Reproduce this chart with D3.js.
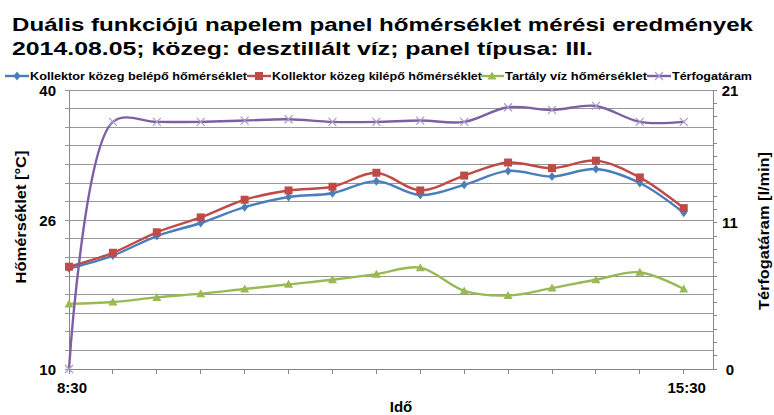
<!DOCTYPE html>
<html>
<head>
<meta charset="utf-8">
<script src="https://cdn.jsdelivr.net/npm/d3@7"></script>
<style>
  html, body { margin: 0; padding: 0; background: #fff; }
  svg { display: block; font-family: "Liberation Sans", Arial, sans-serif; }
</style>
</head>
<body>
<svg id="chart" width="774" height="415"></svg>
<script>
// Measurement times (30-minute steps)
const categories = ["8:30","9:00","9:30","10:00","10:30","11:00","11:30","12:00",
                    "12:30","13:00","13:30","14:00","14:30","15:00","15:30"];
// Collector medium inlet temperature [°C]
const inletTemp  = [20.8, 22.2, 24.3, 25.7, 27.4, 28.5, 28.9, 30.2, 28.7, 29.8, 31.3, 30.7, 31.5, 30.0, 26.8];
// Collector medium outlet temperature [°C]
const outletTemp = [21.0, 22.5, 24.7, 26.3, 28.2, 29.2, 29.6, 31.1, 29.2, 30.8, 32.2, 31.6, 32.4, 30.6, 27.3];
// Tank water temperature [°C]
const tankTemp   = [17.0, 17.2, 17.7, 18.1, 18.6, 19.1, 19.6, 20.2, 20.9, 18.4, 17.9, 18.7, 19.6, 20.4, 18.6];
// Volume flow [l/min]
const flowRate   = [0.0, 18.6, 18.6, 18.6, 18.7, 18.8, 18.6, 18.6, 18.7, 18.6, 19.7, 19.5, 19.8, 18.6, 18.6];

const seriesNames = ["Kollektor közeg belépő hőmérséklet", "Kollektor közeg kilépő hőmérséklet",
                     "Tartály víz hőmérséklet", "Térfogatáram"];
const leftTickLabels  = [10, 26, 40];
const rightTickLabels = [0, 11, 21];
const xTickLabels     = ["8:30", "15:30"];
const titleLines = ["Duális funkciójú napelem panel hőmérséklet mérési eredmények",
                    "2014.08.05; közeg: desztillált víz; panel típusa: III."];

// Layout: widths of the wide title/legend lettering
const titleWidths  = [741, 581];
const legendLayout = [{ x: 5, w: 217 }, { x: 247, w: 210 }, { x: 480, w: 142 }, { x: 647, w: 80 }];

const toMin = s => { const [h, m] = s.split(":").map(Number); return h * 60 + m; };

const svg = d3.select("#chart");
const plotL = 69, plotR = 713, plotT = 90, plotB = 369;

const x  = d3.scaleLinear().domain([toMin("8:30"), toMin("15:50")]).range([plotL, plotR]);
const yL = d3.scaleLinear().domain([10, 40]).range([plotB, plotT]);
const yR = d3.scaleLinear().domain([0, 21]).range([plotB, plotT]);

const gridColor = "#989898", axisColor = "#868686";

// Title
svg.append("g").selectAll("text").data(titleLines).join("text")
  .attr("x", 12).attr("y", (d, i) => 30.5 + i * 24)
  .attr("font-size", 18.5).attr("font-weight", "bold").attr("fill", "#000")
  .attr("textLength", (d, i) => titleWidths[i]).attr("lengthAdjust", "spacingAndGlyphs")
  .text(d => d);

// Horizontal gridlines every 2 °C, with outward ticks on the left
svg.append("g").selectAll("line").data(d3.range(10, 41, 2)).join("line")
  .attr("x1", plotL - 4).attr("x2", plotR)
  .attr("y1", d => yL(d)).attr("y2", d => yL(d))
  .attr("stroke", gridColor).attr("stroke-width", 1).attr("shape-rendering", "crispEdges");

// Left axis line
svg.append("line").attr("x1", plotL).attr("x2", plotL).attr("y1", plotT).attr("y2", plotB)
  .attr("stroke", axisColor).attr("shape-rendering", "crispEdges");

// Right axis with a tick per l/min
svg.append("line").attr("x1", plotR).attr("x2", plotR).attr("y1", plotT).attr("y2", plotB)
  .attr("stroke", axisColor).attr("shape-rendering", "crispEdges");
svg.append("g").selectAll("line").data(d3.range(0, 22)).join("line")
  .attr("x1", plotR).attr("x2", plotR + 4)
  .attr("y1", d => yR(d)).attr("y2", d => yR(d))
  .attr("stroke", axisColor).attr("shape-rendering", "crispEdges");

// Bottom axis with a tick at every measurement time
svg.append("line").attr("x1", plotL).attr("x2", plotR).attr("y1", plotB).attr("y2", plotB)
  .attr("stroke", axisColor).attr("shape-rendering", "crispEdges");
svg.append("g").selectAll("line").data(categories).join("line")
  .attr("x1", d => x(toMin(d))).attr("x2", d => x(toMin(d)))
  .attr("y1", plotB).attr("y2", plotB + 5)
  .attr("stroke", axisColor).attr("shape-rendering", "crispEdges");

// Tick labels
const tickFont = { "font-size": 15, "font-weight": "bold", "fill": "#000" };
const applyFont = (sel, f) => { Object.entries(f).forEach(([k, v]) => sel.attr(k, v)); return sel; };

applyFont(svg.append("g").selectAll("text").data(leftTickLabels).join("text")
  .attr("x", 56).attr("y", d => yL(d) + 5.5).attr("text-anchor", "end")
  .text(d => d), tickFont);
applyFont(svg.append("g").selectAll("text").data(rightTickLabels).join("text")
  .attr("x", 730).attr("y", d => yR(d) + 5.5).attr("text-anchor", "middle")
  .text(d => d), tickFont);
applyFont(svg.append("g").selectAll("text").data(xTickLabels).join("text")
  .attr("x", d => x(toMin(d)) + 3).attr("y", 393).attr("text-anchor", "middle")
  .text(d => d), tickFont);

// Axis titles
applyFont(svg.append("text").attr("text-anchor", "middle")
  .attr("transform", "translate(26,217) rotate(-90)")
  .attr("textLength", 133).attr("lengthAdjust", "spacingAndGlyphs").text("Hőmérséklet [°C]"),
  { "font-size": 14.5, "font-weight": "bold", "fill": "#000" });
applyFont(svg.append("text").attr("text-anchor", "middle")
  .attr("transform", "translate(769,231) rotate(-90)")
  .attr("textLength", 158).attr("lengthAdjust", "spacingAndGlyphs").text("Térfogatáram [l/min]"),
  { "font-size": 14.5, "font-weight": "bold", "fill": "#000" });
applyFont(svg.append("text").attr("text-anchor", "middle")
  .attr("x", 401).attr("y", 412).text("Idő"),
  { "font-size": 15, "font-weight": "bold", "fill": "#000" });

// Series definitions
const series = [
  { name: seriesNames[0], values: inletTemp,  y: yL, color: "#4a7ebb", marker: "diamond",  mcolor: "#4a7ebb" },
  { name: seriesNames[1], values: outletTemp, y: yL, color: "#be4b48", marker: "square",   mcolor: "#be4b48" },
  { name: seriesNames[2], values: tankTemp,   y: yL, color: "#98b954", marker: "triangle", mcolor: "#98b954" },
  { name: seriesNames[3], values: flowRate,   y: yR, color: "#7d5fa4", marker: "cross",    mcolor: "#a899c9" }
];

function drawMarker(g, type, cx, cy, color) {
  if (type === "diamond") {
    g.append("path").attr("d", `M${cx},${cy-4.5}L${cx+3.5},${cy}L${cx},${cy+4.5}L${cx-3.5},${cy}Z`).attr("fill", color);
  } else if (type === "square") {
    g.append("rect").attr("x", cx - 4).attr("y", cy - 4).attr("width", 8).attr("height", 8).attr("fill", color);
  } else if (type === "triangle") {
    g.append("path").attr("d", `M${cx},${cy-4.5}L${cx+4.5},${cy+3.5}L${cx-4.5},${cy+3.5}Z`).attr("fill", color);
  } else {
    g.append("path").attr("d", `M${cx-4},${cy-4}L${cx+4},${cy+4}M${cx-4},${cy+4}L${cx+4},${cy-4}`)
      .attr("stroke", color).attr("stroke-width", 1.2).attr("fill", "none");
  }
}

const plot = svg.append("g");
series.forEach(s => {
  const pts = s.values.map((v, i) => [x(toMin(categories[i])), s.y(v)]);
  const line = d3.line().curve(d3.curveCatmullRom.alpha(0.5));
  plot.append("path").attr("d", line(pts)).attr("fill", "none")
    .attr("stroke", s.color).attr("stroke-width", 2.4).attr("stroke-linejoin", "round");
  const mg = plot.append("g");
  pts.forEach(p => drawMarker(mg, s.marker, p[0], p[1], s.mcolor));
});

// Legend along the top
const legend = svg.append("g").attr("font-size", 11.6).attr("font-weight", "bold");
const ly = 76;
series.forEach((s, i) => {
  const lx = legendLayout[i].x;
  legend.append("line").attr("x1", lx).attr("x2", lx + 24).attr("y1", ly).attr("y2", ly)
    .attr("stroke", s.color).attr("stroke-width", 2.4);
  drawMarker(legend, s.marker, lx + 12, ly, s.mcolor);
  legend.append("text").attr("x", lx + 25).attr("y", ly + 4).attr("fill", "#000")
    .attr("textLength", legendLayout[i].w).attr("lengthAdjust", "spacingAndGlyphs")
    .text(s.name);
});
</script>
</body>
</html>
